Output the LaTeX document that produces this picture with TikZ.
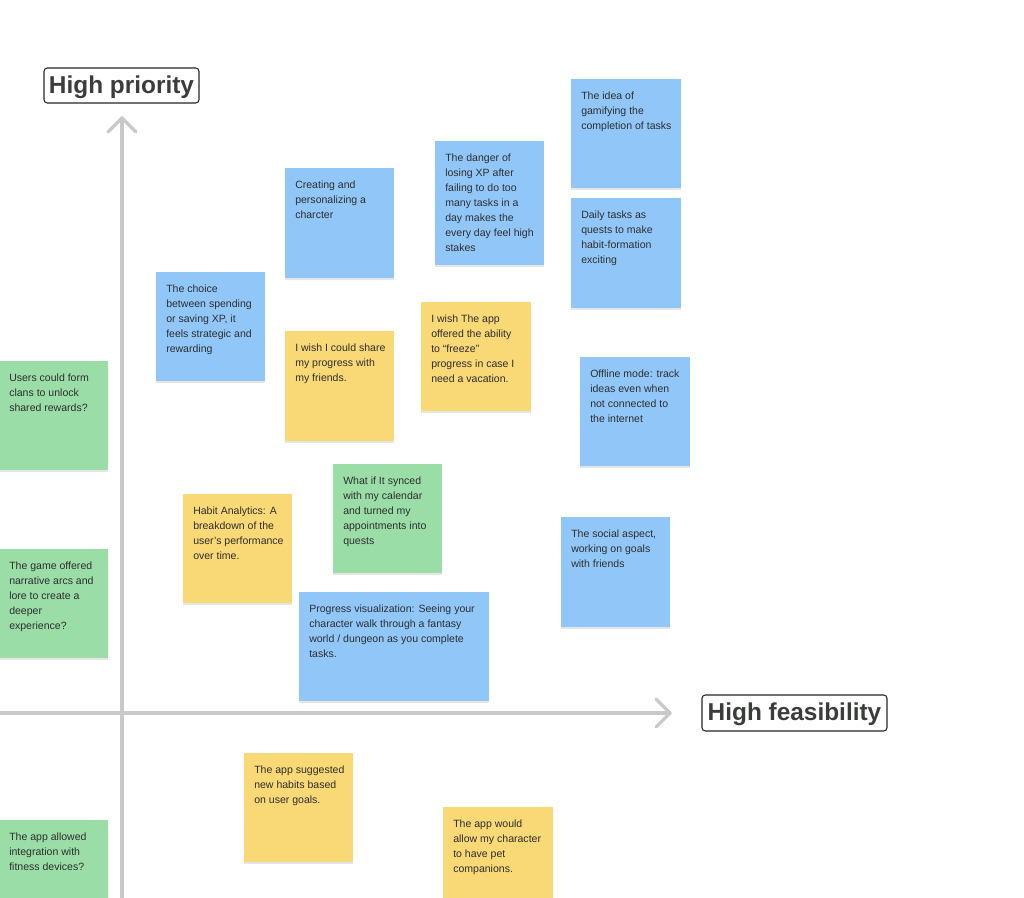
\documentclass[tikz,border=0pt]{standalone}
\usepackage{fontspec}
\setmainfont{Liberation Sans}
\usetikzlibrary{shadows}
\definecolor{nblue}{HTML}{91C7F8}
\definecolor{nyellow}{HTML}{F9D876}
\definecolor{ngreen}{HTML}{9ADDA7}
\definecolor{ntxt}{HTML}{2E2E2E}
\definecolor{axisgray}{HTML}{C9C9C9}
\definecolor{titletxt}{HTML}{3A3D3A}
\tikzset{
  note/.style 2 args={rectangle, inner sep=0pt, draw=none, anchor=north west,
    minimum width={#1*0.75pt}, minimum height={#2*0.75pt},
    drop shadow={shadow xshift=0pt, shadow yshift=-1.2pt, opacity=0.10, fill=black}},
  bluenote/.style={fill=nblue},
  yellownote/.style={fill=nyellow},
  greennote/.style={fill=ngreen},
  ntext/.style={anchor=north west, inner sep=0pt, align=left, text=ntxt,
    font=\fontsize{7.9pt}{11.25pt}\selectfont},
  titlebox/.style 2 args={draw=black!85, line width=0.8pt, rounded corners=2.5pt,
    fill=white, inner sep=0pt, minimum width={#1*0.75pt}, minimum height={#2*0.75pt},
    text=titletxt, text depth=2pt, font=\bfseries\fontsize{18.3pt}{20pt}\selectfont},
  axis/.style={draw=axisgray, line width=2.4pt, line cap=round, line join=round}
}
\newcommand{\stick}[7]{%
  \node[note={#4}{#5}, #6] (#1) at (#2,#3) {};
  \node[ntext] (#1t) at ([shift={(10,12.3)}]#1.north west) {#7};
}
\begin{document}
\begin{tikzpicture}[x=0.75pt,y=-0.75pt]
\clip (0,0) rectangle (1024,898);
\fill[white] (0,0) rectangle (1024,898);

% axes
\coordinate (ybot) at (122,900);
\coordinate (ytop) at (122,118);
\coordinate (yl) at (108,132);
\coordinate (yr) at (136,132);
\coordinate (xleft) at (-2,713);
\coordinate (xtip) at (670,713);
\coordinate (xu) at (656,699);
\coordinate (xd) at (656,727);
\draw[axis] (ybot) -- (ytop);
\draw[axis] (yl) -- (ytop) -- (yr);
\draw[axis] (xleft) -- (xtip);
\draw[axis] (xu) -- (xtip) -- (xd);

% titles
\node[titlebox={155}{35}] (hp) at (121.5,85.5) {High priority};
\node[titlebox={185}{36}] (hf) at (794.5,713) {High feasibility};

% sticky notes
\stick{n1}{571}{79}{110}{109}{bluenote}{The idea of\\gamifying the\\completion of tasks}
\stick{n2}{285}{168}{109}{110}{bluenote}{Creating and\\personalizing a\\charcter}
\stick{n3}{435}{141}{109}{124}{bluenote}{The danger of\\losing XP after\\failing to do too\\many tasks in a\\day makes the\\every day feel high\\stakes}
\stick{n4}{571}{198}{110}{110}{bluenote}{Daily tasks as\\quests to make\\habit-formation\\exciting}
\stick{n5}{156}{272}{109}{109}{bluenote}{The choice\\between spending\\or saving XP, it\\feels strategic and\\rewarding}
\stick{n6}{285}{331}{109}{110}{yellownote}{I wish I could share\\my progress with\\my friends.}
\stick{n7}{421}{302}{110}{109}{yellownote}{I wish The app\\offered the ability\\to “freeze”\\progress in case I\\need a vacation.}
\stick{n8}{580}{357}{110}{109}{bluenote}{Offline mode: track\\ideas even when\\not connected to\\the internet}
\stick{n9}{-1}{361}{109}{109}{greennote}{Users could form\\clans to unlock\\shared rewards?}
\stick{n10}{333}{464}{109}{109}{greennote}{What if It synced\\with my calendar\\and turned my\\appointments into\\quests}
\stick{n11}{183}{494}{109}{109}{yellownote}{Habit Analytics: A\\breakdown of the\\user’s performance\\over time.}
\stick{n12}{561}{517}{109}{110}{bluenote}{The social aspect,\\working on goals\\with friends}
\stick{n13}{-1}{549}{109}{109}{greennote}{The game offered\\narrative arcs and\\lore to create a\\deeper\\experience?}
\stick{n14}{299}{592}{190}{109}{bluenote}{Progress visualization: Seeing your\\character walk through a fantasy\\world / dungeon as you complete\\tasks.}
\stick{n15}{244}{753}{109}{109}{yellownote}{The app suggested\\new habits based\\on user goals.}
\stick{n16}{443}{807}{110}{110}{yellownote}{The app would\\allow my character\\to have pet\\companions.}
\stick{n17}{-1}{820}{109}{110}{greennote}{The app allowed\\integration with\\fitness devices?}
\end{tikzpicture}
\end{document}
